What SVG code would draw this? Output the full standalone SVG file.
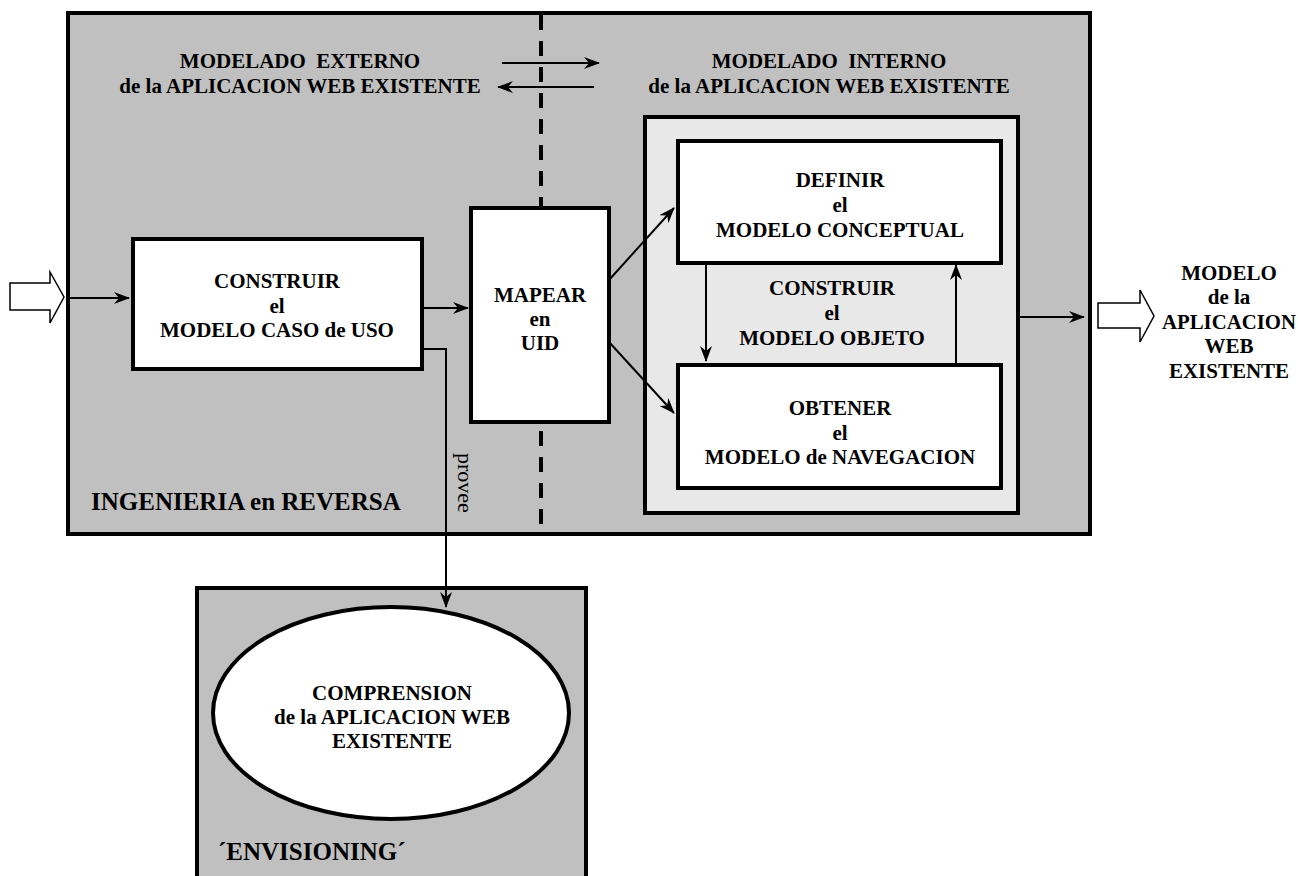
<svg xmlns="http://www.w3.org/2000/svg" width="1298" height="876" viewBox="0 0 1298 876">
  <style>
    .panel { fill: #c0c0c0; stroke: #000; stroke-width: 4; }
    .inner { fill: #e8e8e8; stroke: #000; stroke-width: 4; }
    .box { fill: #fff; stroke: #000; stroke-width: 4; }
    .hollow { fill: #fff; stroke: #000; stroke-width: 1.5; }
    .wire { fill: none; stroke: #000; stroke-width: 2; }
    .dash { fill: none; stroke: #000; stroke-width: 4; stroke-dasharray: 15 11; }
    text { font-family: "Liberation Serif", "Times New Roman", serif; font-weight: bold; font-size: 21px; fill: #000; }
    .c { text-anchor: middle; }
    .title { font-size: 25px; }
    .plain { font-weight: normal; font-size: 22px; }
  </style>
  <defs>
    <marker id="head" viewBox="0 0 16 12" refX="15" refY="6" markerWidth="16" markerHeight="12" markerUnits="userSpaceOnUse" orient="auto">
      <path d="M0,0 L16,6 L0,12 L5,6 z" fill="#000"/>
    </marker>
  </defs>

  <!-- reverse engineering panel -->
  <g id="ingenieria">
    <rect class="panel" x="68" y="13" width="1022" height="521"/>
    <text class="title" x="91" y="510">INGENIERIA en REVERSA</text>
  </g>

  <!-- envisioning panel -->
  <g id="envisioning">
    <rect class="panel" x="197" y="588" width="389" height="300"/>
    <text class="title" x="218" y="860">´ENVISIONING´</text>
  </g>

  <!-- external / internal modelling split -->
  <g id="divisor">
    <line class="dash" x1="541" y1="15" x2="541" y2="532"/>
  </g>

  <g id="externo">
    <text class="c" x="300" y="68" style="white-space:pre">MODELADO  EXTERNO</text>
    <text class="c" x="300" y="93">de la APLICACION WEB EXISTENTE</text>
  </g>
  <g id="interno">
    <text class="c" x="829" y="68" style="white-space:pre">MODELADO  INTERNO</text>
    <text class="c" x="829" y="93">de la APLICACION WEB EXISTENTE</text>
  </g>

  <!-- object model group -->
  <g id="modelo-objeto">
    <rect class="inner" x="645" y="117" width="373" height="396"/>
    <text class="c" x="832" y="295">CONSTRUIR</text>
    <text class="c" x="832" y="320">el</text>
    <text class="c" x="832" y="345">MODELO OBJETO</text>
  </g>

  <g id="caso-uso">
    <rect class="box" x="133" y="239" width="289" height="130"/>
    <text class="c" x="277" y="288">CONSTRUIR</text>
    <text class="c" x="277" y="313">el</text>
    <text class="c" x="277" y="337">MODELO CASO de USO</text>
  </g>

  <g id="mapear">
    <rect class="box" x="471" y="208" width="138" height="214"/>
    <text class="c" x="540" y="302">MAPEAR</text>
    <text class="c" x="540" y="326">en</text>
    <text class="c" x="540" y="350">UID</text>
  </g>

  <g id="conceptual">
    <rect class="box" x="678" y="141" width="323" height="122"/>
    <text class="c" x="840" y="187">DEFINIR</text>
    <text class="c" x="840" y="212">el</text>
    <text class="c" x="840" y="237">MODELO CONCEPTUAL</text>
  </g>

  <g id="navegacion">
    <rect class="box" x="678" y="365" width="323" height="123"/>
    <text class="c" x="840" y="415">OBTENER</text>
    <text class="c" x="840" y="440">el</text>
    <text class="c" x="840" y="464">MODELO de NAVEGACION</text>
  </g>

  <g id="comprension">
    <ellipse class="box" cx="391" cy="713" rx="178" ry="106"/>
    <text class="c" x="392" y="700">COMPRENSION</text>
    <text class="c" x="392" y="724">de la APLICACION WEB</text>
    <text class="c" x="392" y="748">EXISTENTE</text>
  </g>

  <!-- input and output block arrows -->
  <g id="entrada">
    <path class="hollow" d="M10,283 L50,283 L50,272 L64,297 L50,323 L50,310 L10,310 z"/>
  </g>
  <g id="salida">
    <path class="hollow" d="M1098,303 L1140,303 L1140,290 L1154,316 L1140,342 L1140,328 L1098,328 z"/>
    <text class="c" x="1229" y="280">MODELO</text>
    <text class="c" x="1229" y="304">de la</text>
    <text class="c" x="1229" y="329" textLength="134" lengthAdjust="spacingAndGlyphs">APLICACION</text>
    <text class="c" x="1229" y="353">WEB</text>
    <text class="c" x="1229" y="378">EXISTENTE</text>
  </g>

  <!-- connectors -->
  <g id="conectores">
    <line class="wire" x1="502" y1="63" x2="599" y2="63" marker-end="url(#head)"/>
    <line class="wire" x1="594" y1="87" x2="498" y2="87" marker-end="url(#head)"/>
    <line class="wire" x1="68" y1="298" x2="129" y2="298" marker-end="url(#head)"/>
    <line class="wire" x1="422" y1="308" x2="468" y2="308" marker-end="url(#head)"/>
    <line class="wire" x1="609" y1="280" x2="674" y2="208" marker-end="url(#head)"/>
    <line class="wire" x1="609" y1="342" x2="674" y2="413" marker-end="url(#head)"/>
    <line class="wire" x1="706" y1="265" x2="706" y2="361" marker-end="url(#head)"/>
    <line class="wire" x1="956" y1="365" x2="956" y2="265" marker-end="url(#head)"/>
    <line class="wire" x1="1018" y1="317" x2="1084" y2="317" marker-end="url(#head)"/>
    <polyline class="wire" points="422,349 446,349 446,607" marker-end="url(#head)"/>
    <text class="plain" transform="translate(458,453) rotate(90)">provee</text>
  </g>
</svg>
